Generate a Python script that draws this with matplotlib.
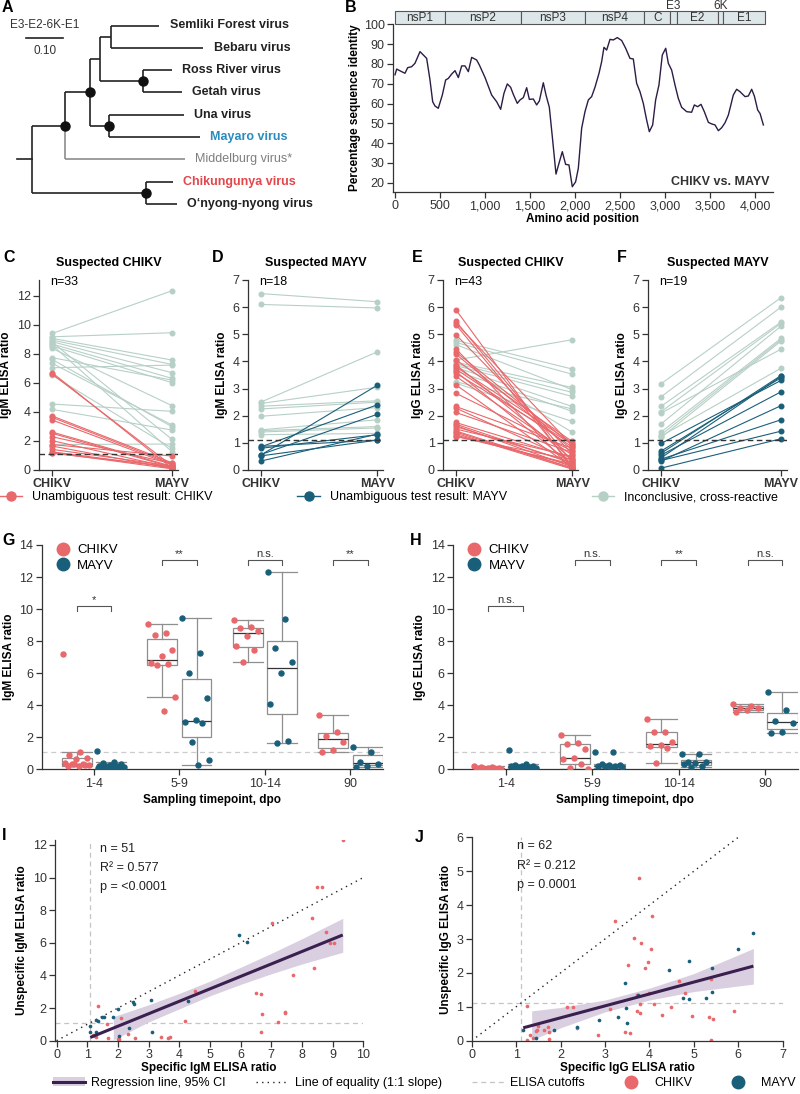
import numpy as np
import matplotlib
matplotlib.use("Agg")
import matplotlib.pyplot as plt
from matplotlib.patches import Rectangle, Patch
from matplotlib.lines import Line2D
from matplotlib.ticker import FuncFormatter

plt.rcParams['font.family'] = ['Liberation Sans', 'DejaVu Sans']
plt.rcParams['font.size'] = 8.5
plt.rcParams['axes.linewidth'] = 0.9
plt.rcParams['axes.edgecolor'] = '#333333'
plt.rcParams['xtick.color'] = '#333333'
plt.rcParams['ytick.color'] = '#333333'
plt.rcParams['xtick.labelsize'] = 9
plt.rcParams['ytick.labelsize'] = 9

RED = '#e8686c'
TEAL = '#1a5f7a'
GREY = '#b7d0c6'
PURPLE = '#3a1f4f'
BAND = '#d9cfe0'

# ---- A: phylogeny (E3-E2-6K-E1) ----
tree_nodes = ['root', 'n1', 'n2', 'n3', 'n5', 'Semliki Forest virus', 'Bebaru virus',
              'n6', 'Ross River virus', 'Getah virus', 'n4', 'Una virus', 'Mayaro virus',
              'Middelburg virus*', 'n7', 'Chikungunya virus', 'O\u2018nyong-nyong virus']
tree_parent = [None, 'root', 'n1', 'n2', 'n3', 'n5', 'n5', 'n3', 'n6', 'n6', 'n2',
               'n4', 'n4', 'n1', 'root', 'n7', 'n7']
branch_len = [0.0, 0.089, 0.068, 0.027, 0.030, 0.130, 0.249, 0.116, 0.078, 0.105,
              0.051, 0.203, 0.246, 0.324, 0.308, 0.073, 0.084]
supported = ['n1', 'n2', 'n4', 'n6', 'n7']

# ---- B: sliding-window identity CHIKV vs MAYV ----
aa_pos = [0, 19, 74, 111, 141, 185, 222, 278, 326, 352, 389, 419, 444, 481, 526, 563, 593,
          630, 667, 704, 741, 778, 815, 852, 907, 937, 1000, 1074, 1130, 1174, 1211, 1248,
          1285, 1315, 1359, 1389, 1426, 1463, 1493, 1537, 1574, 1604, 1648, 1678, 1715,
          1748, 1789, 1822, 1859, 1896, 1933, 1970, 2007, 2037, 2074, 2111, 2148, 2185,
          2222, 2267, 2296, 2322, 2352, 2389, 2426, 2470, 2519, 2563, 2611, 2648, 2685,
          2722, 2759, 2796, 2826, 2863, 2896, 2933, 2970, 3008, 3037, 3074, 3111, 3148,
          3185, 3241, 3296, 3326, 3363, 3400, 3437, 3482, 3519, 3556, 3593, 3630, 3667,
          3704, 3759, 3796, 3833, 3889, 3926, 3963, 3993, 4030, 4056, 4093]
identity = [74.5, 77.4, 76.1, 75.3, 78.1, 78.6, 80.3, 86.2, 84, 82.8, 71.9, 60.9, 58.8,
            57.6, 64.3, 71.9, 72.7, 74.9, 76.6, 73.1, 79, 79, 76.1, 83.3, 82, 79.5, 73.2,
            64.3, 60.9, 57.1, 65.2, 69.9, 68.2, 64.6, 60.1, 61.8, 63, 68, 62.1, 62.3, 59.3,
            61.3, 70.5, 64.3, 58.1, 43.3, 24.4, 29.8, 35.7, 29.3, 29, 18, 20.5, 27.3, 47.5,
            55.9, 61.8, 63.5, 68.2, 75.3, 81.1, 88.4, 87, 92.4, 92.1, 93.3, 91.8, 87.9,
            82.8, 82.5, 70.2, 66, 60.1, 51.7, 45.8, 49.2, 61.8, 69.4, 84.5, 87.9, 80.3,
            76.9, 69.4, 62.6, 58.1, 55.9, 55.6, 59.3, 58.4, 59.6, 55.9, 50.5, 49.7, 49.2,
            46.3, 47.8, 50.3, 54.2, 64.3, 67.2, 66, 63.5, 63.8, 67.2, 63.8, 56.7, 55, 49.2]
gene_names = ['nsP1', 'nsP2', 'nsP3', 'nsP4', 'C', 'E3', 'E2', '6K', 'E1']
gene_ends = [556, 1396, 2111, 2770, 3059, 3130, 3585, 3641, 4111]

# ---- C-F: paired ELISA ratios (CHIKV antigen, MAYV antigen) ----
c_chik_red = [6.7, 6.6, 3.72, 3.62, 3.44, 2.61, 2.52, 2.29, 2.02, 1.75, 1.65, 1.42, 1.25, 1.2, 1.15]
c_mayv_red = [0.12, 0.3, 0.5, 0.42, 0.35, 0.25, 0.2, 0.45, 0.15, 0.96, 0.1, 0.28, 0.18, 0.08, 0.22]
c_chik_grey = [9.4, 9.17, 9.06, 8.94, 8.83, 8.67, 8.53, 8.37, 7.73, 7.61, 7.34, 7.04, 6.51,
               4.54, 4.17, 8.8, 8.6, 1.75]
c_mayv_grey = [12.34, 9.45, 7.57, 7.27, 6.7, 6.31, 6.01, 4.43, 6.19, 2.98, 3.1, 7.22, 1.49,
               4.04, 2.75, 2.11, 1.26, 1.79]

d_chik_blue = [0.55, 0.85, 0.57, 0.33, 0.8, 0.52, 0.87]
d_mayv_blue = [3.12, 2.4, 2.05, 1.32, 1.3, 1.1, 1.1]
d_chik_grey = [6.5, 6.1, 2.5, 2.45, 2.35, 2.25, 1.98, 1.48, 1.45, 1.4, 1.3]
d_mayv_grey = [6.2, 5.97, 4.35, 3.05, 2.55, 2.5, 2.3, 1.85, 1.6, 1.55, 1.35]

e_chik_red = [5.91, 5.48, 5.42, 5.36, 4.99, 4.47, 4.27, 4.06, 3.88, 3.72, 3.63, 3.57, 3.45,
              3.14, 2.83, 2.34, 2.28, 2.12, 1.75, 1.69, 1.64, 1.51, 1.44, 1.35, 1.29, 1.23,
              3.8, 1.6, 1.4, 1.25, 4.35]
e_mayv_red = [0.05, 0.3, 0.9, 0.15, 0.6, 0.02, 0.75, 1.05, 0.4, 0.85, 0.2, 0.95, 0.55, 0.1,
              0.7, 0.8, 0.35, 0.65, 0.45, 0.25, 0.12, 0.5, 0.08, 0.03, 0.18, 0.38, 1.0, 0.28,
              0.06, 0.22, 0.92]
e_chik_grey = [4.05, 4.78, 4.7, 3.97, 4.62, 3.92, 3.85, 3.78, 3.25, 3.65, 3.2, 4.0]
e_mayv_grey = [4.8, 3.72, 3.53, 3.04, 2.96, 2.86, 2.71, 2.34, 2.25, 2.16, 1.79, 1.39]

f_chik_blue = [0.07, 0.35, 0.4, 0.33, 0.55, 0.98, 0.45, 0.62, 0.7]
f_mayv_blue = [1.15, 1.43, 1.85, 2.37, 2.88, 3.3, 3.45, 3.48, 3.4]
f_chik_grey = [3.18, 2.7, 2.35, 2.15, 2.1, 1.7, 1.4, 1.3, 1.25, 1.2]
f_mayv_grey = [6.35, 6.0, 5.45, 5.4, 4.45, 5.3, 4.85, 4.8, 3.75, 4.75]

cutoff = 1.1

# ---- G-H: ratios by sampling timepoint ----
timepoints = ['1-4', '5-9', '10-14', '90']
igm_chikv = [[7.2, 1.05, 0.88, 0.68, 0.62, 0.4, 0.35, 0.3, 0.27, 0.22, 0.18, 0.25, 0.33],
             [9.05, 8.5, 8.4, 7.45, 7.05, 6.65, 6.6, 6.5, 4.5, 3.65],
             [9.3, 8.9, 8.8, 8.65, 8.35, 7.7, 7.45, 6.7],
             [3.42, 2.35, 2.1, 1.7, 1.2, 1.05]]
igm_mayv = [[1.15, 0.45, 0.4, 0.3, 0.25, 0.22, 0.2, 0.18, 0.15, 0.12, 0.1, 0.1, 0.08, 0.06,
             0.05, 0.05, 0.04, 0.03, 0.2, 0.15],
            [9.42, 7.25, 6.0, 4.45, 3.1, 2.95, 2.9, 1.7, 0.55, 0.25],
            [12.3, 9.4, 7.55, 6.7, 6.0, 4.05, 1.75, 1.65],
            [1.38, 1.05, 0.45, 0.35, 0.2, 0.15]]
igg_chikv = [[0.2, 0.15, 0.12, 0.1, 0.08, 0.07, 0.05, 0.05, 0.04, 0.03, 0.03, 0.02],
             [2.15, 1.65, 1.55, 1.25, 0.7, 0.65, 0.35, 0.05, 0.02],
             [3.12, 2.35, 2.3, 1.7, 1.5, 1.45, 1.32, 0.4],
             [4.05, 3.98, 3.85, 3.8, 3.68, 3.55]]
igg_mayv = [[1.18, 0.3, 0.25, 0.22, 0.2, 0.18, 0.15, 0.12, 0.1, 0.1, 0.08, 0.06, 0.05],
            [1.05, 1.05, 0.3, 0.28, 0.25, 0.22, 0.2, 0.18, 0.15, 0.05],
            [0.98, 0.98, 0.48, 0.45, 0.4, 0.32, 0.2, 0.12],
            [4.8, 3.7, 3.02, 2.9, 2.35, 2.25]]
igm_sig = ['*', '**', 'n.s.', '**']
igg_sig = ['n.s.', 'n.s.', '**', 'n.s.']
sig_height = [10.2, 13.05, 13.05, 13.05]

# ---- I-J: specific vs unspecific ratio ----
i_chik_x = [9.33, 8.48, 8.64, 8.32, 7.04, 8.78, 8.91, 9.05, 8.4, 7.7, 4.53, 6.5, 6.66, 7.45,
            6.71, 7.23, 6.66, 4.18, 1.34, 1.65, 2.09, 1.2, 1.3, 1.68, 2.01, 2.34, 2.55, 3.4,
            3.64, 3.7, 7.46, 1.25, 2.05]
i_chik_y = [12.27, 9.39, 9.39, 7.5, 7.2, 6.65, 5.97, 5.97, 4.44, 4.03, 3.07, 2.9, 2.84, 1.74,
            1.64, 1.17, 0.55, 1.21, 2.15, 1.0, 1.37, 0.35, 0.2, 0.14, 0.12, 0.41, 0.16, 0.2,
            0.18, 0.25, 1.7, 0.3, 0.1]
i_mayv_x = [5.95, 6.2, 4.3, 3.07, 2.48, 2.52, 2.01, 1.85, 1.55, 1.47, 1.3, 1.34, 1.09, 1.09,
            1.3, 2.37, 3.1, 2.03]
i_mayv_y = [6.48, 6.07, 2.41, 2.49, 2.39, 2.25, 1.94, 1.43, 1.47, 1.47, 1.27, 1.21, 0.9, 0.51,
            0.55, 0.8, 0.55, 0.31]
i_fit_x = [1.1, 9.33]
i_fit_y = [0.2, 6.48]
i_ci_x = [1.85, 3.0, 4.0, 5.0, 6.0, 7.0, 8.0, 9.33]
i_ci_lo = [0.05, 1.15, 1.95, 2.75, 3.45, 4.1, 4.7, 5.42]
i_ci_hi = [1.47, 2.2, 2.9, 3.65, 4.5, 5.35, 6.25, 7.5]

j_chik_x = [3.77, 3.23, 4.05, 3.66, 3.81, 4.03, 3.96, 3.89, 3.51, 4.67, 5.38, 4.79, 3.98, 3.73,
            3.79, 4.1, 3.79, 3.73, 3.11, 2.14, 2.29, 1.24, 4.28, 4.48, 4.95, 5.33, 5.44, 5.91,
            5.38, 3.46, 3.56, 2.85, 2.36, 1.73, 1.71, 1.63, 1.46, 1.5, 1.44, 1.31, 1.24, 1.37,
            1.75]
j_chik_y = [4.79, 3.53, 3.69, 3.02, 2.89, 2.7, 2.31, 2.15, 2.23, 1.77, 1.82, 1.4, 1.4, 1.35,
            1.08, 1.08, 0.83, 0.88, 0.93, 1.0, 0.98, 1.02, 0.76, 0.98, 0.74, 0.69, 0.64, 0.88,
            0.02, 0.27, 0.22, 0.17, 0.36, 0.27, 0.41, 0.31, 0.31, 0.43, 0.29, 0.17, 0.02, 0.07,
            0.04]
j_mayv_x = [6.34, 6.0, 4.88, 5.4, 4.45, 3.45, 3.74, 5.4, 4.76, 4.88, 5.27, 3.47, 3.3, 3.49,
            2.87, 2.36, 1.85, 1.16, 1.44]
j_mayv_y = [3.19, 2.7, 2.36, 2.13, 2.08, 1.71, 1.35, 1.43, 1.25, 1.22, 1.25, 0.97, 0.71, 0.51,
            0.61, 0.39, 0.33, 0.33, 0.09]
j_fit_x = [1.16, 6.34]
j_fit_y = [0.38, 2.2]
j_ci_x = [1.35, 2.0, 3.0, 4.0, 5.0, 6.34]
j_ci_lo = [0.02, 0.38, 0.85, 1.2, 1.45, 1.67]
j_ci_hi = [0.88, 0.98, 1.2, 1.55, 1.98, 2.72]

W, H = 800, 1094
fig = plt.figure(figsize=(W / 100, H / 100), dpi=100)


def add_ax(l, t, r, b):
    ax = fig.add_axes([l / W, 1 - b / H, (r - l) / W, (b - t) / H])
    ax.spines['top'].set_visible(False)
    ax.spines['right'].set_visible(False)
    ax.tick_params(length=4, width=0.9, pad=2)
    return ax


def ftext(x, y, s, **kw):
    fig.text(x / W, 1 - y / H, s, **kw)


def letter(x, y, s):
    ftext(x, y, s, fontsize=11.5, fontweight='bold', va='center', ha='left')


# ---------------- A ----------------
axA = fig.add_axes([0, 1 - 215 / H, 340 / W, 215 / H])
axA.axis('off')
axA.set_xlim(-32 / 370, 308 / 370)
axA.set_ylim(189.5 / 22.3, -25.5 / 22.3)
children = {n: [] for n in tree_nodes}
for n, p in zip(tree_nodes, tree_parent):
    if p is not None:
        children[p].append(n)
blen = dict(zip(tree_nodes, branch_len))
nx, ny = {}, {}
leaf_count = [0]


def layout(node, x0):
    nx[node] = x0 + blen[node]
    if not children[node]:
        ny[node] = leaf_count[0]
        leaf_count[0] += 1
    else:
        for c in children[node]:
            layout(c, nx[node])
        ny[node] = np.mean([ny[c] for c in children[node]])


layout('root', 0.0)
for n, p in zip(tree_nodes, tree_parent):
    if p is None:
        axA.plot([nx[n] - 0.041, nx[n]], [ny[n], ny[n]], color='#222222', lw=1.2)
        continue
    col = '#8c8c8c' if n.startswith('Middelburg') else '#222222'
    axA.plot([nx[p], nx[p]], [ny[p], ny[n]], color=col, lw=1.2, solid_capstyle='butt')
    axA.plot([nx[p], nx[n]], [ny[n], ny[n]], color=col, lw=1.2, solid_capstyle='butt')
    if not children[n]:
        if n.startswith('Mayaro'):
            kw = dict(color='#2a8bbd', fontweight='bold')
        elif n.startswith('Chikungunya'):
            kw = dict(color='#e2474b', fontweight='bold')
        elif n.startswith('Middelburg'):
            kw = dict(color='#7f7f7f')
        else:
            kw = dict(color='#222222', fontweight='bold')
        axA.text(nx[n] + 0.028, ny[n], n, va='center', ha='left', fontsize=9, **kw)
for n in supported:
    axA.plot(nx[n], ny[n], 'o', color='#111111', ms=6.5, zorder=3)
# scale bar
axA.plot([-6 / 370, 31 / 370], [12.5 / 22.3, 12.5 / 22.3], color='#222222', lw=1.2)
axA.text(13 / 370, -0.5 / 22.3, 'E3-E2-6K-E1', ha='center', va='center', fontsize=8.5, color='#333333')
axA.text(13 / 370, 25 / 22.3, '0.10', ha='center', va='center', fontsize=8.5, color='#333333')
letter(2, 7, 'A')

# ---------------- B ----------------
axB = add_ax(393, 24.3, 773, 191.7)
axB.plot(aa_pos, identity, color='#2d1c45', lw=1.0)
axB.set_xlim(-22, 4200)
axB.set_ylim(15.5, 100)
axB.set_xticks(range(0, 4001, 500))
axB.xaxis.set_major_formatter(FuncFormatter(lambda v, p: f'{int(v):,}'))
axB.set_yticks(range(20, 101, 10))
starts = [0] + gene_ends[:-1]
for name, s, e in zip(gene_names, starts, gene_ends):
    axB.add_patch(Rectangle((s, 100), e - s, 6.7, facecolor='#dde7ea', edgecolor='#555555',
                            lw=0.8, clip_on=False))
    if name in ('E3', '6K'):
        axB.text((s + e) / 2, 109.3, name, ha='center', va='center', fontsize=8.5, color='#333333')
    else:
        axB.text((s + e) / 2, 103.35, name, ha='center', va='center', fontsize=8.5, color='#333333')
axB.text(0.99, 0.06, 'CHIKV vs. MAYV', transform=axB.transAxes, ha='right', va='center',
         fontsize=9, fontweight='bold', color='#333333')
axB.set_xlabel('Amino acid position', fontweight='bold', labelpad=1)
axB.set_ylabel('Percentage sequence identity', fontweight='bold', labelpad=2)
letter(345, 7, 'B')


# ---------------- C-F ----------------
def paired(box, pairs, ymax, yticks, title, n, ylabel, lab, labx):
    ax = add_ax(*box)
    for left, right, col in pairs:
        for a, b in zip(left, right):
            ax.plot([0, 1], [a, b], color=col, lw=0.8, marker='o', ms=3.3, mec=col, mfc=col)
    ax.axhline(cutoff, color='#333333', lw=1, ls=(0, (4, 2.5)), zorder=5)
    ax.set_xlim(-0.11, 1.05)
    ax.set_ylim(0, ymax)
    ax.set_yticks(yticks)
    ax.set_xticks([0, 1])
    ax.set_xticklabels(['CHIKV', 'MAYV'], fontweight='bold', fontsize=9)
    ax.text(0.5, 1.09, title, transform=ax.transAxes, ha='center', va='center',
            fontweight='bold', fontsize=9)
    ax.text(0.08, 0.99, f'n={n}', transform=ax.transAxes, ha='left', va='center', fontsize=9)
    ax.set_ylabel(ylabel, fontweight='bold', labelpad=3)
    letter(labx, 257, lab)
    return ax


paired((39, 280, 178, 470), [(c_chik_grey, c_mayv_grey, GREY), (c_chik_red, c_mayv_red, RED)],
       13.08, range(0, 13, 2), 'Suspected CHIKV', 33, 'IgM ELISA ratio', 'C', 3)
paired((248, 280, 383, 470), [(d_chik_grey, d_mayv_grey, GREY), (d_chik_blue, d_mayv_blue, TEAL)],
       7, range(0, 8), 'Suspected MAYV', 18, 'IgM ELISA ratio', 'D', 212)
paired((443, 280, 578, 470), [(e_chik_grey, e_mayv_grey, GREY), (e_chik_red, e_mayv_red, RED)],
       7, range(0, 8), 'Suspected CHIKV', 43, 'IgG ELISA ratio', 'E', 412)
paired((648, 280, 787, 470), [(f_chik_grey, f_mayv_grey, GREY), (f_chik_blue, f_mayv_blue, TEAL)],
       7, range(0, 8), 'Suspected MAYV', 19, 'IgG ELISA ratio', 'F', 617)

cf_handles = [Line2D([], [], color=c, lw=1, marker='o', ms=6.5) for c in (RED, TEAL, GREY)]
fig.legend(cf_handles, ['Unambiguous test result: CHIKV', 'Unambiguous test result: MAYV',
                        'Inconclusive, cross-reactive'],
           loc='center', bbox_to_anchor=(0.486, 1 - 497 / H), ncol=3, frameon=False,
           fontsize=9, handlelength=1.8, handletextpad=0.8, columnspacing=6.8)


# ---------------- G-H ----------------
def boxpanel(box, chik, mayv, sig, ylabel, lab, labx):
    ax = add_ax(*box)
    pos = np.arange(len(timepoints))
    off, wid = 0.2, 0.35
    for data, d, col in ((chik, -off, RED), (mayv, off, TEAL)):
        ax.boxplot(data, positions=pos + d, widths=wid, showfliers=False, patch_artist=True,
                   whis=1.5, capwidths=wid,
                   boxprops=dict(facecolor='white', edgecolor='#8f8f8f', lw=0.9),
                   whiskerprops=dict(color='#8f8f8f', lw=0.9),
                   capprops=dict(color='#8f8f8f', lw=0.9),
                   medianprops=dict(color='#333333', lw=0.9))
        for i, vals in enumerate(data):
            k = np.arange(len(vals))
            jit = ((k * 0.618) % 1 - 0.5) * wid * 0.95
            ax.plot(pos[i] + d + jit, vals, 'o', color=col, ms=3.6, zorder=4)
    ax.axhline(cutoff, color='#cccccc', lw=0.9, ls=(0, (4, 3)), zorder=0)
    for i, (s, h) in enumerate(zip(sig, sig_height)):
        x1, x2 = pos[i] - off, pos[i] + off
        ax.plot([x1, x1, x2, x2], [h - 0.3, h, h, h - 0.3], color='#555555', lw=0.8)
        ax.text(pos[i], h + 0.05, s, ha='center', va='bottom', fontsize=8, color='#333333')
    ax.set_xlim(-0.61, 3.38)
    ax.set_ylim(0, 14)
    ax.set_yticks(range(0, 15, 2))
    ax.set_xticks(pos)
    ax.set_xticklabels(timepoints)
    ax.set_xlabel('Sampling timepoint, dpo', fontweight='bold', labelpad=3)
    ax.set_ylabel(ylabel, fontweight='bold', labelpad=3)
    hs = [Line2D([], [], ls='', marker='o', color=c, ms=9) for c in (RED, TEAL)]
    ax.legend(hs, ['CHIKV', 'MAYV'], loc='upper left', bbox_to_anchor=(0.0, 1.04), frameon=False,
              fontsize=9.5, handletextpad=0.1, labelspacing=0.25, borderaxespad=0.2)
    letter(labx, 540, lab)
    return ax


boxpanel((41.7, 545, 383, 769.3), igm_chikv, igm_mayv, igm_sig, 'IgM ELISA ratio', 'G', 2)
boxpanel((453, 545, 798, 769.3), igg_chikv, igg_mayv, igg_sig, 'IgG ELISA ratio', 'H', 410)


# ---------------- I-J ----------------
def scatpanel(box, cx, cy, mx, my, fx, fy, cix, cilo, cihi, xlim, ylim, xt, yt, n, r2, p, ab,
              lab, labx, laby):
    ax = add_ax(*box)
    ax.axhline(cutoff, color='#c4c4c4', lw=0.9, ls=(0, (4, 3)), zorder=0)
    ax.axvline(cutoff, color='#c4c4c4', lw=0.9, ls=(0, (4, 3)), zorder=0)
    ax.plot([0, 10], [0, 10], color='#222222', lw=1, ls=(0, (1, 3)), zorder=1)
    ax.fill_between(cix, cilo, cihi, color=BAND, lw=0, zorder=1)
    ax.plot(fx, fy, color=PURPLE, lw=2.2, zorder=3, solid_capstyle='butt')
    ax.scatter(cx, cy, s=7, color=RED, zorder=2, lw=0)
    ax.scatter(mx, my, s=7, color=TEAL, zorder=2, lw=0)
    ax.set_xlim(*xlim)
    ax.set_ylim(*ylim)
    ax.set_xticks(xt)
    ax.set_yticks(yt)
    ax.set_xlabel(f'Specific {ab} ELISA ratio', fontweight='bold', labelpad=1)
    ax.set_ylabel(f'Unspecific {ab} ELISA ratio', fontweight='bold', labelpad=3)
    for k, s in enumerate([f'n = {n}', f'R\u00b2 = {r2}', f'p = {p}']):
        ax.text(0.145, 0.955 - k * 0.095, s, transform=ax.transAxes, ha='left', va='center',
                fontsize=9, color='#222222')
    letter(labx, laby, lab)
    return ax


scatpanel((55, 840, 363.3, 1040.7), i_chik_x, i_chik_y, i_mayv_x, i_mayv_y, i_fit_x, i_fit_y,
          i_ci_x, i_ci_lo, i_ci_hi, (-0.05, 10), (0, 12.3), range(0, 11), range(0, 13, 2),
          51, '0.577', '<0.0001', 'IgM', 'I', 2, 836)
scatpanel((471.7, 837.3, 782.7, 1040.7), j_chik_x, j_chik_y, j_mayv_x, j_mayv_y, j_fit_x, j_fit_y,
          j_ci_x, j_ci_lo, j_ci_hi, (0, 7), (0, 6), range(0, 8), range(0, 7),
          62, '0.212', '0.0001', 'IgG', 'J', 415, 838)

leg_handles = [(Patch(facecolor=BAND, lw=0), Line2D([], [], color=PURPLE, lw=2.2)),
               Line2D([], [], color='#222222', lw=1, ls=(0, (1, 3))),
               Line2D([], [], color='#c4c4c4', lw=0.9, ls=(0, (4, 3))),
               Line2D([], [], ls='', marker='o', color=RED, ms=9),
               Line2D([], [], ls='', marker='o', color=TEAL, ms=9)]
fig.legend(leg_handles, ['Regression line, 95% CI', 'Line of equality (1:1 slope)',
                         'ELISA cutoffs', 'CHIKV', 'MAYV'],
           loc='center', bbox_to_anchor=(0.53, 1 - 1083 / H), ncol=5, frameon=False,
           fontsize=9, handlelength=2.6, handletextpad=0.5, columnspacing=2.4)

fig.savefig('out.png', dpi=100)
